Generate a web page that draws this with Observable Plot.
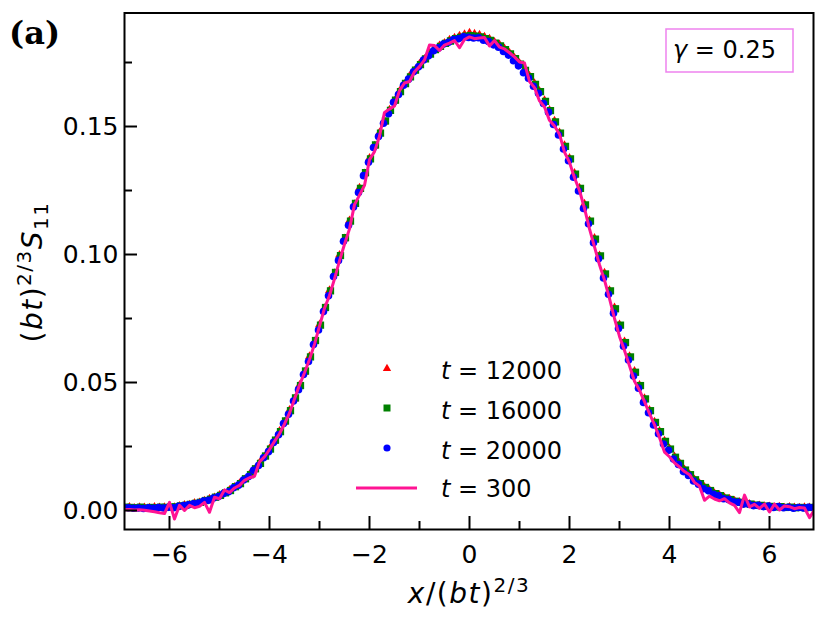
<!DOCTYPE html>
<html><head><meta charset="utf-8">
<script src="https://cdn.jsdelivr.net/npm/d3@7"></script>
<script src="https://cdn.jsdelivr.net/npm/@observablehq/plot@0.6"></script>
<style>
body{margin:0;background:#fff;}
#chart{width:830px;height:623px;position:relative;}
</style></head><body><div id="chart"></div>
<script>
// x grids of the simulation data, x/(bt)^{2/3}: first point and spacing (139 points each)
const xFirst12000 = -6.90, xFirst16000 = -6.88, xFirst20000 = -6.92, xFirst300 = -6.90;
const xStep = 0.1;

// t = 12000 (red triangles)
const yT12000 = [.0010,.0013,.0009,.0012,.0011,.0010,.0013,.0011,.0012,.0015,.0012,.0017,.0021,.0022,.0029,.0031,.0038,.0045,.0050,.0060,.0067,.0080,.0091,.0106,.0121,.0141,.0160,.0186,.0210,.0242,.0271,.0310,.0346,.0392,.0436,.0490,.0540,.0602,.0660,.0726,.0790,.0860,.0926,.0998,.1062,.1132,.1196,.1260,.1316,.1376,.1424,.1476,.1518,.1565,.1600,.1638,.1666,.1697,.1718,.1745,.1763,.1786,.1800,.1816,.1826,.1838,.1846,.1854,.1860,
.1866,
.1862,.1858,.1850,.1842,.1830,.1820,.1804,.1788,.1768,.1748,.1722,.1698,.1668,.1638,.1602,.1564,.1522,.1476,.1426,.1376,.1318,.1260,.1198,.1132,.1064,.0996,.0928,.0860,.0792,.0726,.0660,.0602,.0544,.0490,.0438,.0392,.0346,.0310,.0272,.0242,.0210,.0186,.0160,.0141,.0121,.0106,.0091,.0080,.0067,.0060,.0050,.0045,.0038,.0033,.0028,.0025,.0020,.0019,.0016,.0015,.0012,.0014,.0010,.0013,.0011,.0010,.0012,.0011,.0010];

// t = 16000 (green squares)
const yT16000 = [.0013,.0012,.0011,.0013,.0010,.0012,.0011,.0013,.0012,.0014,.0014,.0018,.0020,.0024,.0028,.0032,.0039,.0044,.0052,.0059,.0069,.0078,.0093,.0105,.0124,.0140,.0163,.0184,.0213,.0240,.0275,.0308,.0350,.0390,.0440,.0488,.0545,.0600,.0664,.0724,.0793,.0858,.0930,.0996,.1066,.1130,.1200,.1258,.1320,.1374,.1428,.1474,.1522,.1563,.1603,.1636,.1668,.1694,.1720,.1742,.1764,.1783,.1800,.1813,.1825,.1834,.1843,.1848,.1853,
.1855,
.1853,.1850,.1843,.1836,.1826,.1815,.1800,.1784,.1765,.1744,.1719,.1695,.1665,.1636,.1598,.1562,.1518,.1474,.1422,.1374,.1314,.1258,.1194,.1130,.1060,.0995,.0924,.0858,.0788,.0724,.0656,.0600,.0540,.0488,.0436,.0390,.0344,.0308,.0270,.0240,.0208,.0184,.0158,.0140,.0120,.0105,.0090,.0078,.0066,.0058,.0049,.0043,.0036,.0032,.0027,.0025,.0021,.0020,.0017,.0016,.0014,.0015,.0012,.0013,.0011,.0012,.0011,.0012,.0012];

// t = 20000 (blue circles)
const yT20000 = [.0012,.0011,.0009,.0010,.0008,.0011,.0009,.0012,.0010,.0013,.0011,.0016,.0019,.0022,.0026,.0029,.0037,.0040,.0049,.0055,.0066,.0073,.0089,.0099,.0119,.0133,.0157,.0176,.0206,.0230,.0266,.0296,.0340,.0376,.0428,.0472,.0531,.0582,.0648,.0705,.0777,.0839,.0914,.0977,.1052,.1114,.1186,.1242,.1308,.1360,.1418,.1461,.1513,.1550,.1595,.1625,.1661,.1685,.1714,.1733,.1760,.1776,.1796,.1807,.1822,.1829,.1840,.1843,.1850,
.1848,
.1846,.1847,.1837,.1832,.1819,.1810,.1793,.1779,.1757,.1737,.1710,.1689,.1657,.1630,.1590,.1556,.1508,.1467,.1412,.1366,.1302,.1248,.1180,.1120,.1046,.0983,.0908,.0845,.0771,.0711,.0642,.0588,.0525,.0478,.0422,.0382,.0334,.0300,.0260,.0235,.0201,.0180,.0152,.0137,.0115,.0103,.0085,.0077,.0063,.0057,.0046,.0043,.0034,.0032,.0025,.0025,.0019,.0020,.0015,.0017,.0012,.0015,.0011,.0013,.0009,.0012,.0010,.0013,.0011];

// t = 300 (pink line)
const yT300 = [.0003,.0004,.0002,.0003,.0001,-.0002,-.0005,-.0009,-.0012,.0032,-.0033,.0020,.0000,.0020,.0011,.0016,.0032,-.0007,.0052,.0046,.0080,.0070,.0088,.0098,.0118,.0128,.0134,.0190,.0210,.0238,.0270,.0300,.0338,.0380,.0436,.0490,.0538,.0590,.0650,.0720,.0790,.0840,.0905,.0975,.1040,.1100,.1195,.1232,.1270,.1370,.1402,.1462,.1555,.1568,.1580,.1640,.1670,.1676,.1714,.1734,.1760,.1818,.1816,.1797,.1818,.1826,.1836,.1808,.1840,
.1850,
.1843,.1846,.1848,.1815,.1836,.1810,.1803,.1788,.1772,.1752,.1748,.1676,.1652,.1600,.1576,.1524,.1502,.1470,.1400,.1360,.1300,.1250,.1180,.1100,.1030,.0960,.0900,.0828,.0750,.0680,.0625,.0565,.0505,.0470,.0425,.0378,.0335,.0285,.0228,.0210,.0186,.0170,.0152,.0140,.0110,.0095,.0040,.0056,.0045,.0038,.0046,.0030,.0020,-.0008,.0060,.0014,.0024,.0008,.0025,-.0006,.0025,.0002,.0018,.0015,.0007,.0012,.0010,-.0028,.0002];

const seriesLabels = ["12000", "16000", "20000", "300"];
const xMajorTicks = [-6, -4, -2, 0, 2, 4, 6];
const xMinorTicks = [-5, -3, -1, 1, 3, 5];
const yMajorTicks = [0, 0.05, 0.10, 0.15];
const yMinorTicks = [0.025, 0.075, 0.125, 0.175];
const gammaValue = "0.25";

const W = 830, H = 623, mL = 124, mR = 17, mT = 12.5, mB = 94;
const plotH = H - mT - mB, plotW = W - mL - mR;
const font = "'DejaVu Sans', sans-serif";

const rows = (arr, x0) => arr.map((y, i) => ({x: +(x0 + i * xStep).toFixed(3), y}));
const red = rows(yT12000, xFirst12000), green = rows(yT16000, xFirst16000),
      blue = rows(yT20000, xFirst20000), pink = rows(yT300, xFirst300);

const minusFmt = d => d < 0 ? "\u2212" + Math.abs(d) : String(d);

const chart = Plot.plot({
  width: W, height: H,
  marginLeft: mL, marginRight: mR, marginTop: mT, marginBottom: mB,
  style: {fontFamily: font, fontSize: "25px", color: "black", background: "white"},
  x: {domain: [-6.9, 6.88]},
  y: {domain: [-0.00742, 0.19434]},
  marks: [
    Plot.dot(red, {x: "x", y: "y", symbol: "triangle", r: 3.3, fill: "#ff0000", clip: true}),
    Plot.dot(green, {x: "x", y: "y", symbol: "square", r: 4.1, fill: "#008000", clip: true}),
    Plot.dot(blue, {x: "x", y: "y", symbol: "circle", r: 3.8, fill: "#0000ff", clip: true}),
    Plot.line(pink, {x: "x", y: "y", stroke: "#ff1493", strokeWidth: 3, clip: true}),
    Plot.tickX(xMajorTicks, {x: d => d, insetTop: plotH - 13, strokeWidth: 2}),
    Plot.tickX(xMinorTicks, {x: d => d, insetTop: plotH - 8, strokeWidth: 2}),
    Plot.tickY(yMajorTicks, {y: d => d, insetRight: plotW - 13, strokeWidth: 2}),
    Plot.tickY(yMinorTicks, {y: d => d, insetRight: plotW - 8, strokeWidth: 2}),
    Plot.axisX({ticks: xMajorTicks, tickSize: 0, tickPadding: 16, tickFormat: minusFmt, label: null}),
    Plot.axisY({ticks: yMajorTicks, tickSize: 0, tickPadding: 6, tickFormat: d => d.toFixed(2), label: null}),
    Plot.frame({strokeWidth: 2})
  ]
});
document.getElementById("chart").append(chart);

// annotations
const svg = d3.select(chart);
const g = svg.append("g").attr("font-family", font).attr("fill", "black")
  .attr("font-size", 24).attr("text-anchor", "start");

// panel tag
g.append("text").attr("x", 9).attr("y", 44)
  .attr("font-family", "'DejaVu Serif', serif").attr("font-weight", "bold").attr("font-size", 32)
  .text("(a)");

// gamma box
g.append("rect").attr("x", 666).attr("y", 29).attr("width", 127).attr("height", 43)
  .attr("fill", "white").attr("stroke", "#ee82ee").attr("stroke-width", 1.5);
const gt = g.append("text").attr("x", 673).attr("y", 58);
gt.append("tspan").attr("font-style", "italic").text("\u03b3");
gt.append("tspan").text(" = " + gammaValue);

// legend
const legY = [368.5, 408, 448, 488];
const legText = [378.5, 418.5, 458.5, 497];
const sx = 387;
g.append("path").attr("transform", `translate(${sx},${legY[0]})`)
  .attr("d", d3.symbol(d3.symbolTriangle, 30)()).attr("fill", "#ff0000");
g.append("path").attr("transform", `translate(${sx},${legY[1]})`)
  .attr("d", d3.symbol(d3.symbolSquare, 49)()).attr("fill", "#008000");
g.append("path").attr("transform", `translate(${sx},${legY[2]})`)
  .attr("d", d3.symbol(d3.symbolCircle, 40)()).attr("fill", "#0000ff");
g.append("line").attr("x1", 356).attr("x2", 417).attr("y1", legY[3]).attr("y2", legY[3])
  .attr("stroke", "#ff1493").attr("stroke-width", 3);
seriesLabels.forEach((lab, i) => {
  const t = g.append("text").attr("x", 441).attr("y", legText[i]);
  t.append("tspan").attr("font-style", "italic").text("t");
  t.append("tspan").text(" = " + lab);
});

// x label: x/(bt)^{2/3}
const xl = g.append("text").attr("x", 469).attr("y", 603).attr("text-anchor", "middle")
  .attr("font-size", 28).attr("letter-spacing", 1.5);
xl.append("tspan").attr("font-style", "italic").text("x");
xl.append("tspan").text("/(");
xl.append("tspan").attr("font-style", "italic").text("bt");
xl.append("tspan").text(")");
xl.append("tspan").attr("font-size", 20).attr("dy", -11).text("2/3");

// y label: (bt)^{2/3} S_{11}
const yl = g.append("text").attr("transform", "translate(42,272) rotate(-90)")
  .attr("text-anchor", "middle").attr("font-size", 28).attr("letter-spacing", 1.5);
yl.append("tspan").text("(");
yl.append("tspan").attr("font-style", "italic").text("bt");
yl.append("tspan").text(")");
yl.append("tspan").attr("font-size", 20).attr("dy", -11).text("2/3");
yl.append("tspan").attr("font-style", "italic").attr("dy", 11).text("S");
yl.append("tspan").attr("font-size", 20).attr("dy", 6).text("11");
</script>
</body></html>
